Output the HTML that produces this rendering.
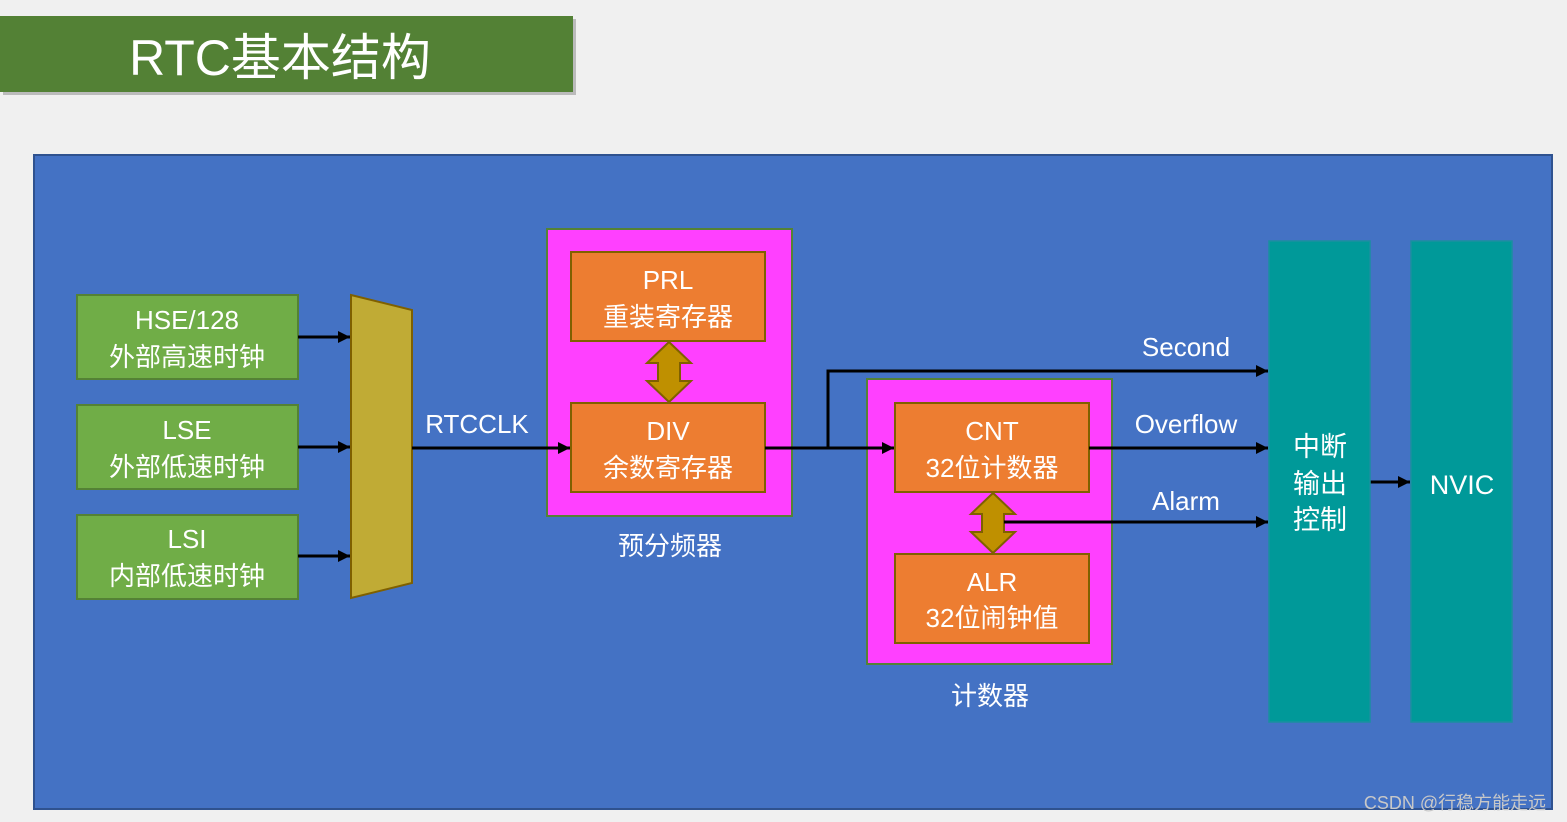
<!DOCTYPE html>
<html><head><meta charset="utf-8"><style>
html,body{margin:0;padding:0;background:#f0f0f0;}
svg{display:block;}
text{font-family:"Liberation Sans","Noto Sans CJK SC",sans-serif;fill:#fff;text-anchor:middle;}
</style></head><body>
<svg width="1567" height="822" viewBox="0 0 1567 822" xmlns="http://www.w3.org/2000/svg">
<defs>
<marker id="a" viewBox="0 0 10 10" refX="10" refY="5" markerWidth="4" markerHeight="4" orient="auto" markerUnits="userSpaceOnUse">
<path d="M0,0L10,5L0,10z" fill="#000"/></marker>
<marker id="b" viewBox="0 0 10 10" refX="10" refY="5" markerWidth="12" markerHeight="12" orient="auto" markerUnits="userSpaceOnUse">
<path d="M0,0L10,5L0,10z" fill="#000"/></marker>
</defs>
<rect x="3" y="19" width="573" height="76" fill="#bbb"/>
<rect x="0" y="16" width="573" height="76" fill="#538135"/>
<text x="280" y="75" font-size="50">RTC基本结构</text>
<rect x="34" y="155" width="1518" height="654" fill="#4472C4" stroke="#2F528F" stroke-width="2"/>
<g fill="#70AD47" stroke="#548235" stroke-width="2">
<rect x="77" y="295" width="221" height="84"/>
<rect x="77" y="405" width="221" height="84"/>
<rect x="77" y="515" width="221" height="84"/>
</g>
<g font-size="26">
<text x="187" y="329">HSE/128</text><text x="187" y="366">外部高速时钟</text>
<text x="187" y="439">LSE</text><text x="187" y="476">外部低速时钟</text>
<text x="187" y="548">LSI</text><text x="187" y="585">内部低速时钟</text>
</g>
<g stroke="#000" stroke-width="3" fill="none">
<line x1="298" y1="337" x2="350" y2="337" marker-end="url(#b)"/>
<line x1="298" y1="447" x2="350" y2="447" marker-end="url(#b)"/>
<line x1="298" y1="556" x2="350" y2="556" marker-end="url(#b)"/>
</g>
<polygon points="351,295 412,310 412,583 351,598" fill="#C0AB35" stroke="#7F6000" stroke-width="2"/>
<rect x="547" y="229" width="245" height="287" fill="#FF40FF" stroke="#548235" stroke-width="2"/>
<rect x="867" y="379" width="245" height="285" fill="#FF40FF" stroke="#548235" stroke-width="2"/>
<g fill="#ED7D31" stroke="#806000" stroke-width="2">
<rect x="571" y="252" width="194" height="89"/>
<rect x="571" y="403" width="194" height="89"/>
<rect x="895" y="403" width="194" height="89"/>
<rect x="895" y="554" width="194" height="89"/>
</g>
<g font-size="26">
<text x="668" y="289">PRL</text><text x="668" y="326">重装寄存器</text>
<text x="668" y="440">DIV</text><text x="668" y="477">余数寄存器</text>
<text x="992" y="440">CNT</text><text x="992" y="477">32位计数器</text>
<text x="992" y="591">ALR</text><text x="992" y="627">32位闹钟值</text>
<text x="670" y="555">预分频器</text>
<text x="990" y="705">计数器</text>
<text x="477" y="433">RTCCLK</text>
<text x="1186" y="356">Second</text>
<text x="1186" y="433">Overflow</text>
<text x="1186" y="510">Alarm</text>
</g>
<g fill="#BF9000" stroke="#7F6000" stroke-width="2">
<polygon points="669,342 691,363 680,363 680,381 691,381 669,402 647,381 658,381 658,363 647,363"/>
<polygon points="993,493 1015,514 1004,514 1004,532 1015,532 993,553 971,532 982,532 982,514 971,514"/>
</g>
<g stroke="#000" stroke-width="3" fill="none">
<line x1="412" y1="448" x2="570" y2="448" marker-end="url(#b)"/>
<line x1="765" y1="448" x2="894" y2="448" marker-end="url(#b)"/>
<polyline points="828,448 828,371 1268,371" marker-end="url(#b)"/>
<line x1="1089" y1="448" x2="1268" y2="448" marker-end="url(#b)"/>
<line x1="1004" y1="522" x2="1268" y2="522" marker-end="url(#b)"/>
<line x1="1370" y1="482" x2="1410" y2="482" marker-end="url(#b)"/>
</g>
<rect x="1269" y="241" width="101" height="481" fill="#009999" stroke="#1a8fa0" stroke-width="1.5"/>
<rect x="1411" y="241" width="101" height="481" fill="#009999" stroke="#1a8fa0" stroke-width="1.5"/>
<g font-size="27">
<text x="1320" y="456">中断</text><text x="1320" y="493">输出</text><text x="1320" y="529">控制</text>
<text x="1462" y="494">NVIC</text>
</g>
<text x="1455" y="809" font-size="18" style="fill:#c8c8c8">CSDN @行稳方能走远</text>
</svg>
</body></html>
